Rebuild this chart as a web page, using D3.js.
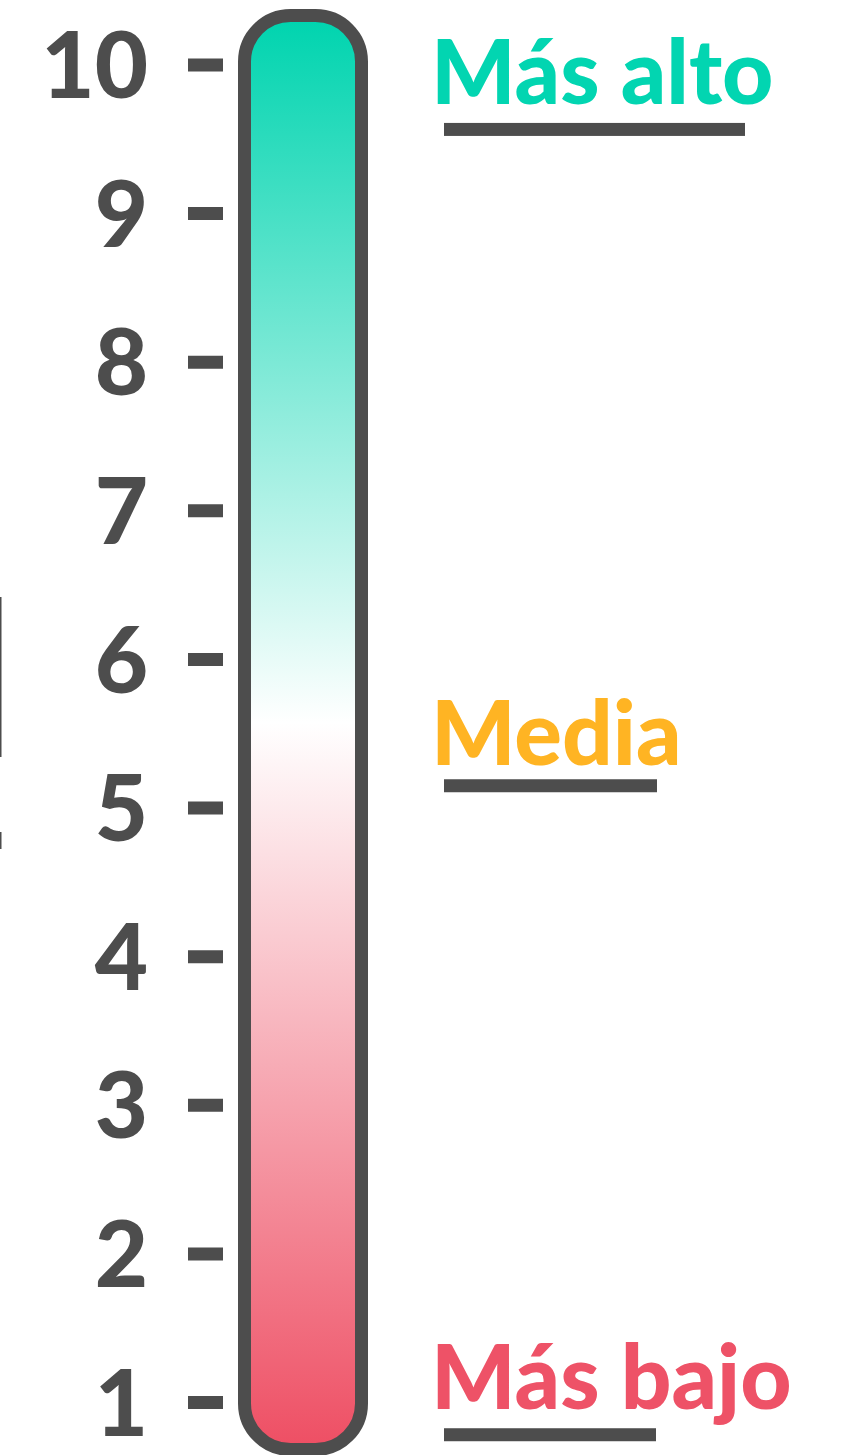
<!DOCTYPE html>
<html>
<head>
<meta charset="utf-8">
<script src="https://cdn.jsdelivr.net/npm/d3@7"></script>
<style>
  html, body { margin: 0; padding: 0; background: #fff; }
  svg { display: block; }
  .scale text { font-family: Lato, sans-serif; font-weight: 900; fill: #4d4d4d; }
  .label { font-family: Lato, sans-serif; font-weight: 900; }
</style>
</head>
<body>
<div id="chart"></div>
<script>
// scale values shown on the left
var scoreTicks = [1, 2, 3, 4, 5, 6, 7, 8, 9, 10];

// gradient stops along the score scale
var gradientValues = [10.3, 5.57, 0.7];
var gradientColors = ['#00d4af', '#ffffff', '#ee4f64'];

// right hand labels and where they sit on the scale
var labelTexts = ['Más alto', 'Media', 'Más bajo'];
var labelValues = [9.95, 5.5, 1.17];
var labelColors = ['#02d5b1', '#ffb423', '#ee5267'];

var width = 857, height = 1455;
var grey = '#4d4d4d';

var svg = d3.select('#chart').append('svg')
    .attr('width', width)
    .attr('height', height);

var y = d3.scaleLinear()
    .domain([1, 10])
    .range([1402, 64.5]);

//Colour ramp for the bar, laid out in screen space so it lines up with the ticks
var y0 = y(gradientValues[0]), y1 = y(gradientValues[gradientValues.length - 1]);
var grad = svg.append('defs').append('linearGradient')
    .attr('id', 'ramp')
    .attr('gradientUnits', 'userSpaceOnUse')
    .attr('x1', 0).attr('x2', 0)
    .attr('y1', y0)
    .attr('y2', y1);

grad.selectAll('stop')
    .data(gradientValues)
    .enter()
    .append('stop')
    .attr('offset', function(d) { return (y(d) - y0) / (y1 - y0); })
    .attr('stop-color', function(d, i) { return gradientColors[i]; });

// thin stray lines at the left edge
svg.append('line')
    .attr('x1', 0.75).attr('x2', 0.75)
    .attr('y1', 597).attr('y2', 757)
    .attr('stroke', grey).attr('stroke-width', 1.5);
svg.append('line')
    .attr('x1', 0.75).attr('x2', 0.75)
    .attr('y1', 832).attr('y2', 849)
    .attr('stroke', grey).attr('stroke-width', 1.5);

//The bar itself
svg.append('rect')
    .attr('x', 244.5)
    .attr('y', 15.5)
    .attr('width', 117)
    .attr('height', 1434)
    .attr('rx', 46)
    .attr('ry', 46)
    .attr('fill', 'url(#ramp)')
    .attr('stroke', grey)
    .attr('stroke-width', 13);

//Axis with chunky tick marks
var axis = d3.axisLeft(y)
    .tickValues(scoreTicks)
    .tickFormat(d3.format('d'))
    .tickSize(35)
    .tickPadding(40);

var axisG = svg.append('g')
    .attr('class', 'scale')
    .attr('transform', 'translate(223,0)')
    .call(axis);

axisG.select('.domain').remove();
axisG.selectAll('.tick line')
    .attr('stroke', grey)
    .attr('stroke-width', 13);
axisG.selectAll('.tick text')
    .attr('font-size', 92)
    .attr('dy', '0.36em');
axisG.attr('font-family', null).attr('font-size', null);

//Labels with underline bars
var underlineWidth = { 'Más alto': 301, 'Media': 213, 'Más bajo': 212 };
var underlineGap = { 'Más alto': 57.5, 'Media': 52.5, 'Más bajo': 58 };

var labels = svg.selectAll('.label-group')
    .data(labelTexts)
    .enter()
    .append('g')
    .attr('class', 'label-group');

labels.append('text')
    .attr('class', 'label')
    .attr('x', 431)
    .attr('y', function(d, i) { return y(labelValues[i]); })
    .attr('dy', '0.36em')
    .attr('font-size', 89)
    .attr('fill', function(d, i) { return labelColors[i]; })
    .text(function(d) { return d; });

labels.append('rect')
    .attr('x', 444)
    .attr('y', function(d, i) { return y(labelValues[i]) + underlineGap[d] - 6.5; })
    .attr('width', function(d) { return underlineWidth[d]; })
    .attr('height', 13)
    .attr('fill', grey);
</script>
</body>
</html>
